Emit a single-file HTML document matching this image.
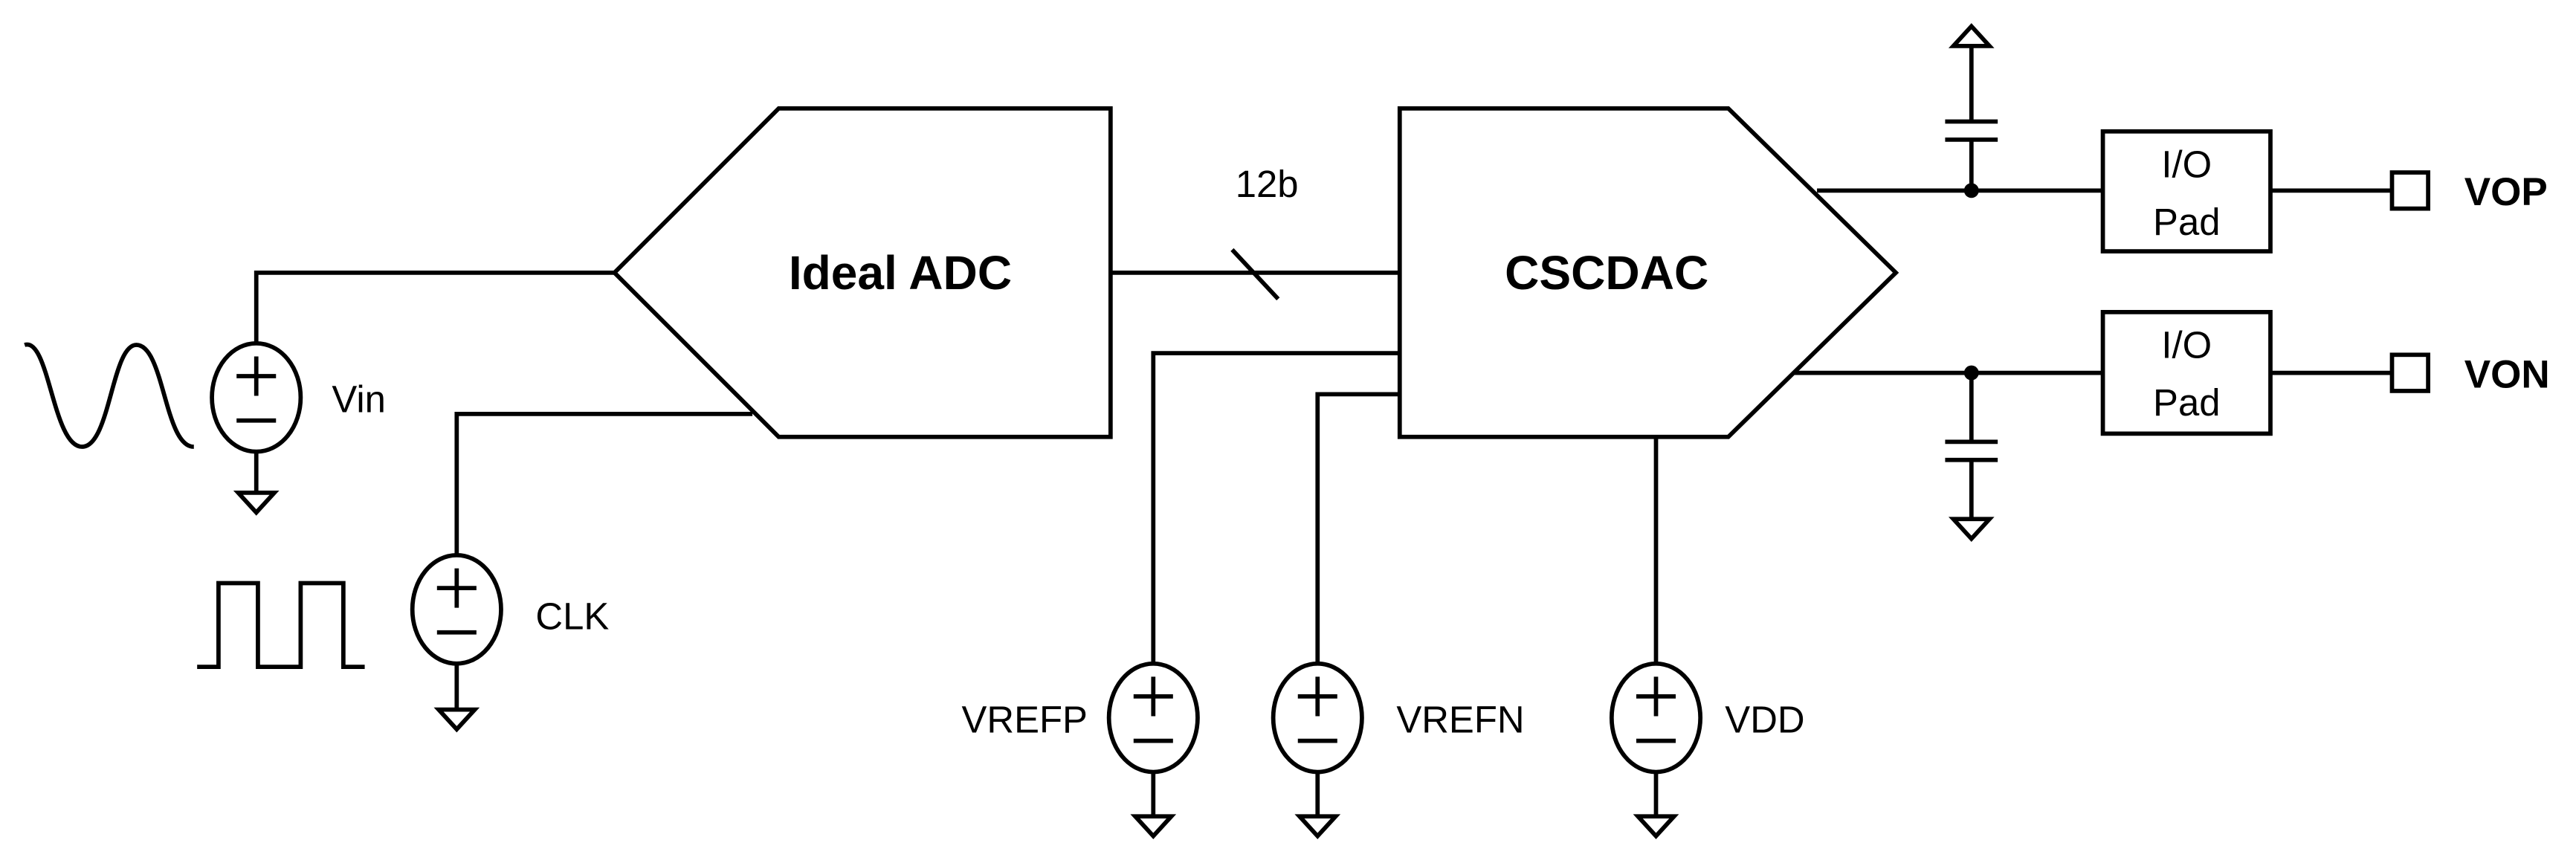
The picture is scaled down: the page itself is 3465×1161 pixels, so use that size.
<!DOCTYPE html>
<html><head><style>
html,body{margin:0;padding:0;background:#fff;}
svg{display:block;}
text{font-family:"Liberation Sans",sans-serif;fill:#000;}
</style></head><body>
<svg width="3465" height="1161" viewBox="0 0 1568 525.4" preserveAspectRatio="none" xmlns="http://www.w3.org/2000/svg">
<g fill="none" stroke="#000" stroke-width="2.6">
<polygon points="474,66 676,66 676,266 474,266 374,166"/>
<polyline points="374,166 156,166 156,209"/>
<ellipse cx="156" cy="242" rx="27" ry="33"/>
<line x1="156" y1="275" x2="156" y2="300"/>
<polygon points="145,300 167,300 156,312"/>
<path d="M15,210 C30,205 32,272 50,272 C67,272 68,210 83,210 C100,210 100,272 118,272"/>
<polyline points="458,252 278,252 278,338"/>
<ellipse cx="278" cy="371" rx="27" ry="33"/>
<line x1="278" y1="404" x2="278" y2="432"/>
<polygon points="267,432 289,432 278,444"/>
<polyline points="120,406 133,406 133,355 157,355 157,406 183,406 183,355 209,355 209,406 222,406"/>
<line x1="676" y1="166" x2="852" y2="166"/>
<line x1="750" y1="152" x2="778" y2="182"/>
<polygon points="852,66 1052,66 1154,166 1052,266 852,266"/>
<polyline points="852,215 702,215 702,404"/>
<ellipse cx="702" cy="437" rx="27" ry="33"/>
<line x1="702" y1="470" x2="702" y2="497"/>
<polygon points="691,497 713,497 702,509"/>
<polyline points="852,240 802,240 802,404"/>
<ellipse cx="802" cy="437" rx="27" ry="33"/>
<line x1="802" y1="470" x2="802" y2="497"/>
<polygon points="791,497 813,497 802,509"/>
<line x1="1008" y1="266" x2="1008" y2="404"/>
<ellipse cx="1008" cy="437" rx="27" ry="33"/>
<line x1="1008" y1="470" x2="1008" y2="497"/>
<polygon points="997,497 1019,497 1008,509"/>
<line x1="1106" y1="116" x2="1280" y2="116"/>
<line x1="1200" y1="116" x2="1200" y2="85"/>
<line x1="1184" y1="85" x2="1216" y2="85"/>
<line x1="1184" y1="74" x2="1216" y2="74"/>
<line x1="1200" y1="74" x2="1200" y2="28"/>
<polygon points="1189,28 1211,28 1200,16"/>
<rect x="1280" y="80" width="102" height="73"/>
<line x1="1382" y1="116" x2="1456" y2="116"/>
<rect x="1456" y="105" width="22" height="22"/>
<line x1="1092" y1="227" x2="1280" y2="227"/>
<line x1="1200" y1="227" x2="1200" y2="269"/>
<line x1="1184" y1="269" x2="1216" y2="269"/>
<line x1="1184" y1="280" x2="1216" y2="280"/>
<line x1="1200" y1="280" x2="1200" y2="316"/>
<polygon points="1189,316 1211,316 1200,328"/>
<rect x="1280" y="190" width="102" height="74"/>
<line x1="1382" y1="227" x2="1456" y2="227"/>
<rect x="1456" y="216" width="22" height="22"/>
</g>
<circle cx="1200" cy="116" r="4.5"/>
<circle cx="1200" cy="227" r="4.5"/>
<g stroke="#000" stroke-width="2.6">
<line x1="144" y1="229" x2="168" y2="229"/><line x1="156" y1="217" x2="156" y2="241"/><line x1="144" y1="256" x2="168" y2="256"/>
<line x1="266" y1="358" x2="290" y2="358"/><line x1="278" y1="346" x2="278" y2="370"/><line x1="266" y1="385" x2="290" y2="385"/>
<line x1="690" y1="424" x2="714" y2="424"/><line x1="702" y1="412" x2="702" y2="436"/><line x1="690" y1="451" x2="714" y2="451"/>
<line x1="790" y1="424" x2="814" y2="424"/><line x1="802" y1="412" x2="802" y2="436"/><line x1="790" y1="451" x2="814" y2="451"/>
<line x1="996" y1="424" x2="1020" y2="424"/><line x1="1008" y1="412" x2="1008" y2="436"/><line x1="996" y1="451" x2="1020" y2="451"/>
</g>
<text x="548" y="176" font-size="29" font-weight="bold" text-anchor="middle">Ideal ADC</text>
<text x="978" y="176" font-size="29" font-weight="bold" text-anchor="middle">CSCDAC</text>
<text x="752" y="120" font-size="23">12b</text>
<text x="202" y="251" font-size="23">Vin</text>
<text x="326" y="383" font-size="23">CLK</text>
<text x="662" y="446" font-size="23" text-anchor="end">VREFP</text>
<text x="850" y="446" font-size="23">VREFN</text>
<text x="1050" y="446" font-size="23">VDD</text>
<text x="1331" y="108" font-size="23" text-anchor="middle">I/O</text>
<text x="1331" y="143" font-size="23" text-anchor="middle">Pad</text>
<text x="1331" y="218" font-size="23" text-anchor="middle">I/O</text>
<text x="1331" y="253" font-size="23" text-anchor="middle">Pad</text>
<text x="1500" y="125" font-size="24" font-weight="bold">VOP</text>
<text x="1500" y="236" font-size="24" font-weight="bold">VON</text>
</svg>
</body></html>
